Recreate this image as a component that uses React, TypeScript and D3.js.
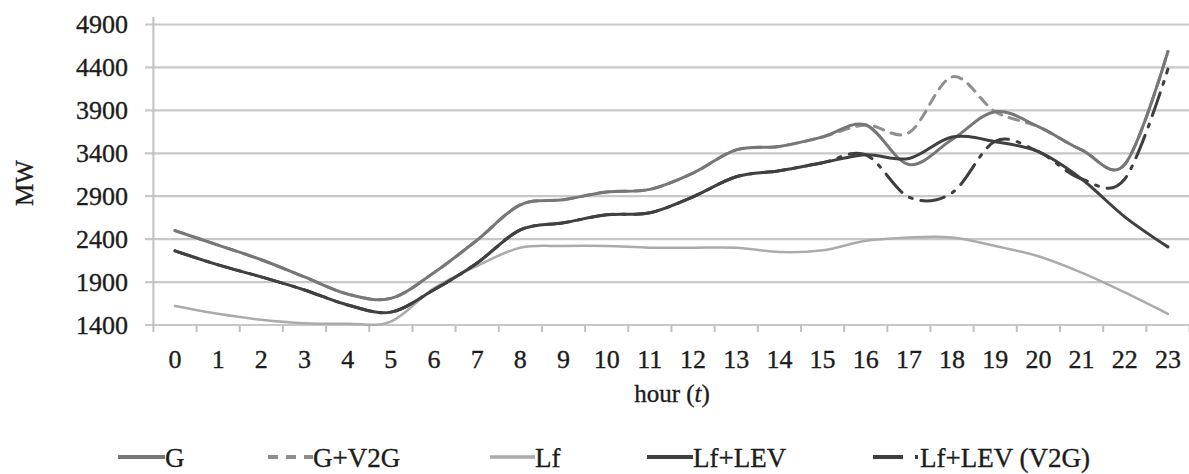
import React from "react";
import * as d3 from "d3";

const hours = [0, 1, 2, 3, 4, 5, 6, 7, 8, 9, 10, 11, 12, 13, 14, 15, 16, 17, 18, 19, 20, 21, 22, 23];
const yTicks = [1400, 1900, 2400, 2900, 3400, 3900, 4400, 4900];

const gValues = [2500, 2330, 2160, 1960, 1760, 1710, 2010, 2390, 2800, 2860, 2950, 2980, 3170, 3440, 3480, 3590, 3730, 3270, 3560, 3885, 3710, 3440, 3270, 4585];
const gV2gValues = [2500, 2330, 2160, 1960, 1760, 1710, 2010, 2390, 2800, 2860, 2950, 2980, 3170, 3440, 3480, 3590, 3730, 3640, 4290, 3885, 3710, 3440, 3270, 4585];
const lfValues = [1622, 1530, 1460, 1420, 1415, 1440, 1830, 2090, 2300, 2320, 2320, 2300, 2300, 2300, 2250, 2270, 2380, 2420, 2420, 2320, 2200, 2010, 1780, 1530];
const lfLevValues = [2263, 2100, 1960, 1808, 1633, 1550, 1810, 2123, 2508, 2590, 2683, 2707, 2893, 3127, 3197, 3290, 3383, 3340, 3590, 3535, 3418, 3100, 2660, 2310];
const lfLevV2gValues = [2263, 2100, 1960, 1808, 1633, 1550, 1810, 2123, 2508, 2590, 2683, 2707, 2893, 3127, 3197, 3290, 3383, 2890, 2940, 3540, 3418, 3100, 3100, 4380];

const series = [
  { name: "G+V2G", values: gV2gValues, color: "#8e8e8e", width: 3, dash: "10 8" },
  { name: "G", values: gValues, color: "#777777", width: 3, dash: null },
  { name: "Lf", values: lfValues, color: "#ababab", width: 2.5, dash: null },
  { name: "Lf+LEV (V2G)", values: lfLevV2gValues, color: "#3e3e3e", width: 3, dash: "24 9 3 9" },
  { name: "Lf+LEV", values: lfLevValues, color: "#404040", width: 3, dash: null },
];

const legendItems = [
  { name: "G", color: "#777777", width: 3, dash: null, x: 118, len: 47 },
  { name: "G+V2G", color: "#8e8e8e", width: 3, dash: "10 8", x: 268, len: 45 },
  { name: "Lf", color: "#ababab", width: 2.5, dash: null, x: 490, len: 45 },
  { name: "Lf+LEV", color: "#404040", width: 3, dash: null, x: 647, len: 46 },
  { name: "Lf+LEV (V2G)", color: "#3e3e3e", width: 3, dash: "30 12 3 100", x: 873, len: 47 },
];

const font = "'Liberation Serif', 'Times New Roman', serif";
const ink = "#1c1c1c";

function Chart() {
  const width = 1189;
  const height = 474;
  const left = 153.4;
  const right = 1189.5;
  const top = 24.5;
  const bottom = 325;

  const x = d3.scaleBand<number>().domain(hours).range([left, right]);
  const y = d3.scaleLinear().domain([1400, 4900]).range([bottom, top]);
  const cx = (h: number) => (x(h) as number) + x.bandwidth() / 2;

  const line = d3
    .line<number>()
    .x((_, i) => cx(hours[i]))
    .y((v) => y(v))
    .curve(d3.curveCardinal.tension(0));

  const textProps = { fontFamily: font, fill: ink, stroke: ink, strokeWidth: 0.35 };

  return (
    <svg width={width} height={height} style={{ position: "absolute", left: 0, top: 0, background: "#fff" }}>
      {yTicks.map((t) => (
        <g key={t}>
          <line x1={145} x2={width} y1={y(t)} y2={y(t)} stroke="#c8c8c8" strokeWidth={2.2} />
          <text x={128} y={y(t) + 8.5} textAnchor="end" fontSize={26} {...textProps}>
            {t}
          </text>
        </g>
      ))}
      <line x1={left} x2={left} y1={17} y2={bottom + 7} stroke="#c0c0c0" strokeWidth={2} />
      {hours.map((h) => (
        <g key={h}>
          <line x1={(x(h) as number) + x.bandwidth()} x2={(x(h) as number) + x.bandwidth()} y1={bottom} y2={bottom + 7} stroke="#c0c0c0" strokeWidth={2} />
          <text x={cx(h)} y={368} textAnchor="middle" fontSize={26} {...textProps}>
            {h}
          </text>
        </g>
      ))}
      <text x={672} y={402} textAnchor="middle" fontSize={25} {...textProps}>
        hour (<tspan fontStyle="italic">t</tspan>)
      </text>
      <text transform="translate(33,183) rotate(-90)" textAnchor="middle" fontSize={25} {...textProps}>
        MW
      </text>

      {series.map((s) => (
        <path
          key={s.name}
          d={line(s.values) ?? ""}
          fill="none"
          stroke={s.color}
          strokeWidth={s.width}
          strokeDasharray={s.dash ?? undefined}
          strokeLinecap="round"
        />
      ))}

      {legendItems.map((it) => (
        <g key={it.name}>
          <line
            x1={it.x}
            x2={it.x + it.len}
            y1={457}
            y2={457}
            stroke={it.color}
            strokeWidth={it.width + 1}
            strokeDasharray={it.dash ?? undefined}
          />
          <text x={it.x + it.len} y={467} fontSize={27} {...textProps}>
            {it.name}
          </text>
        </g>
      ))}
    </svg>
  );
}

export default function App() {
  return <Chart />;
}
